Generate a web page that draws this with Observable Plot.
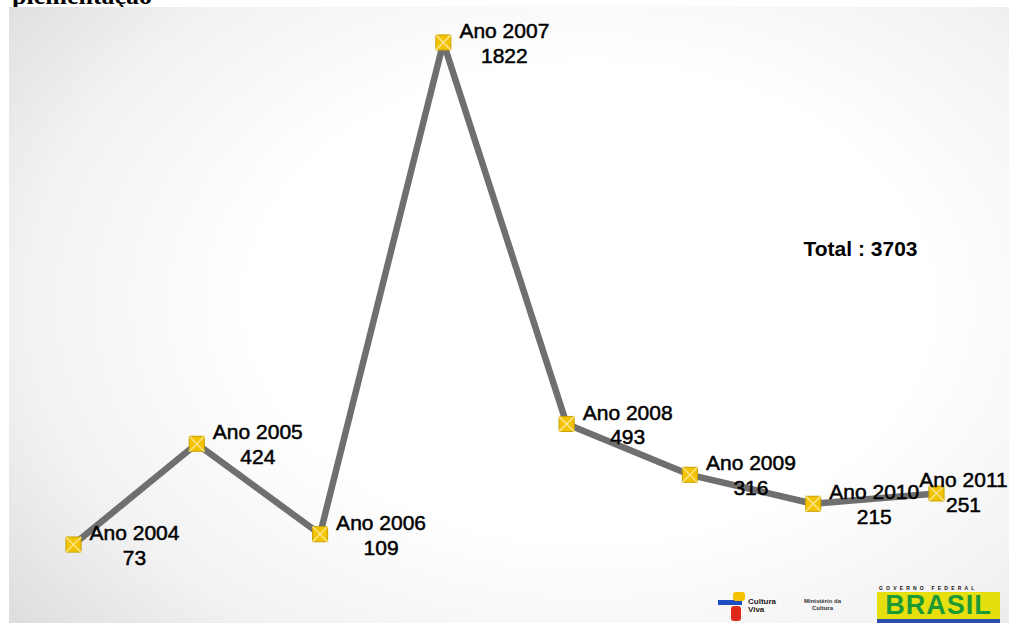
<!DOCTYPE html>
<html>
<head>
<meta charset="utf-8">
<script src="https://cdn.jsdelivr.net/npm/d3@7"></script>
<script src="https://cdn.jsdelivr.net/npm/@observablehq/plot@0.6"></script>
<style>
  body { margin: 0; background: #ffffff; width: 1009px; height: 623px; overflow: hidden; position: relative; }
  #title { height: 7px; overflow: hidden; position: relative; }
  #title span { position: absolute; left: 12px; top: -17px; font: bold 26px "Liberation Serif", serif; line-height: 26px; color: #000; white-space: nowrap; }
  #panel { margin-left: 9px; width: 1000px; height: 616px; position: relative;
    background: radial-gradient(ellipse 75% 85% at 58% 48%, #ffffff 45%, #f2f2f2 75%, #dcdcdc 100%); }
  .logo { position: absolute; font-family: "Liberation Sans", sans-serif; }
</style>
</head>
<body>
<div id="title"><span>plementação</span></div>
<div id="panel"></div>

<!-- decorative logos -->
<div class="logo" style="left:718px;top:600px;width:24px;height:5px;background:#1e4fc2;"></div>
<div class="logo" style="left:733px;top:592px;width:12px;height:9px;background:#f2c200;border-radius:3px;"></div>
<div class="logo" style="left:731px;top:606px;width:10px;height:15px;background:#e02a1a;border-radius:3px;"></div>
<div class="logo" style="left:748px;top:598px;font-size:8px;font-weight:bold;color:#222;line-height:8px;">Cultura<br>Viva</div>
<div class="logo" style="left:804px;top:598px;font-size:6px;font-weight:bold;color:#333;line-height:7px;text-align:center;">Ministério da<br>Cultura</div>
<div class="logo" style="left:879px;top:585px;width:121px;font-size:5px;font-weight:bold;letter-spacing:3.2px;color:#111;">GOVERNO FEDERAL</div>
<div class="logo" style="left:877px;top:592px;width:123px;height:27px;background:#e6df10;font-size:27px;font-weight:bold;color:#1b9a36;line-height:27px;text-align:center;letter-spacing:1px;">BRASIL</div>
<div class="logo" style="left:877px;top:619px;width:123px;height:4px;background:#2a4fa8;"></div>

<script>
const years = [2004, 2005, 2006, 2007, 2008, 2009, 2010, 2011];
const values = [73, 424, 109, 1822, 493, 316, 215, 251];
const yearPrefix = "Ano";
const totalPrefix = "Total : ";

const data = years.map((year, i) => ({year, value: values[i], label: `${yearPrefix} ${year}\n${values[i]}`}));
const total = d3.sum(values);

const chart = Plot.plot({
  width: 1000,
  height: 616,
  marginLeft: 64,
  marginRight: 73,
  marginTop: 35,
  marginBottom: 58,
  x: {domain: [2004, 2011], axis: null},
  y: {domain: [0, 1822], axis: null},
  style: {background: "transparent", fontFamily: "Liberation Sans, Arial, sans-serif", overflow: "visible"},
  marks: [
    Plot.line(data, {x: "year", y: "value", stroke: "#6f6f6f", strokeWidth: 6.5, strokeLinejoin: "round", strokeLinecap: "round"}),
    Plot.dot(data, {x: "year", y: "value", symbol: "square", r: 8.5, fill: "#f3c300", stroke: "#c9a200", strokeWidth: 1}),
    Plot.dot(data, {x: "year", y: "value", symbol: "times", r: 7, stroke: "#fbe48c", strokeWidth: 1.5}),
    Plot.text(data.slice(0, -1), {x: "year", y: "value", text: "label", dx: 61, dy: 0, fontSize: 21, lineHeight: 1.19, fill: "#000", stroke: "#000", strokeWidth: 0.5}),
    Plot.text(data.slice(-1), {x: "year", y: "value", text: "label", dx: 27, dy: -2, fontSize: 21, lineHeight: 1.19, fill: "#000", stroke: "#000", strokeWidth: 0.5}),
    Plot.text([totalPrefix + total], {frameAnchor: "right", textAnchor: "end", dx: -19, dy: -55, fontSize: 21, fontWeight: "bold", fill: "#000"})
  ]
});
document.getElementById("panel").appendChild(chart);
</script>
</body>
</html>
